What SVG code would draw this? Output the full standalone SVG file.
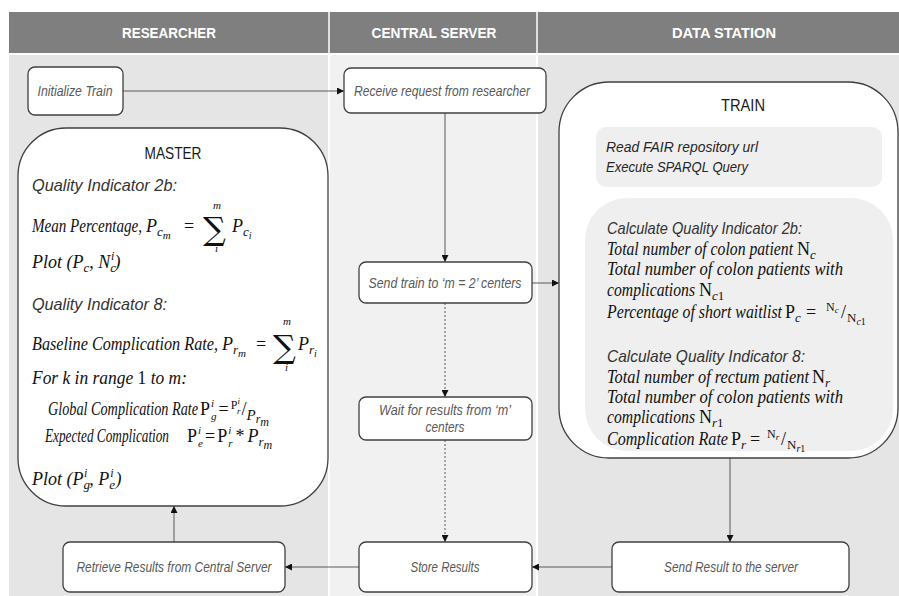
<svg xmlns="http://www.w3.org/2000/svg" width="899" height="596" viewBox="0 0 899 596">
<defs>
<style>
.hdr{font-family:"Liberation Sans",Arial,sans-serif;font-weight:bold;font-size:15px;fill:#fff;text-anchor:middle}
.box{fill:#fff;stroke:#404040;stroke-width:1.3}
.inner{fill:#efefef;stroke:none}
.lbl{font-family:"Liberation Sans",Arial,sans-serif;font-style:italic;font-size:14px;fill:#595959;text-anchor:middle}
.ttl{font-family:"Liberation Sans",Arial,sans-serif;font-size:17px;fill:#1a1a1a;text-anchor:middle}
.qi{font-family:"Liberation Sans",Arial,sans-serif;font-style:italic;font-size:17px;fill:#333}
.rd{font-family:"Liberation Sans",Arial,sans-serif;font-style:italic;font-size:15px;fill:#262626}
.m{font-family:"Liberation Serif","Times New Roman",serif;font-style:italic;font-size:18px;fill:#111}
.s13{font-size:13px}.s12{font-size:12px}.s11{font-size:11px}.s10{font-size:10px}.s9{font-size:9px}.s15{font-size:15px}
.up{font-style:normal}
.sig{font-family:"DejaVu Serif",serif;font-style:normal;font-size:32px}
.conn{stroke:#595959;stroke-width:1;fill:none}
.dot{stroke-dasharray:2 2}
</style>
<marker id="arr" viewBox="0 0 8 8" refX="8" refY="4" markerWidth="7" markerHeight="7" markerUnits="userSpaceOnUse" orient="auto">
<path d="M0,0 L8,4 L0,8 z" fill="#111"/>
</marker>
</defs>

<g id="lanes">
<rect x="9" y="12" width="890" height="41" fill="#7f7f7f"/>
<rect x="9" y="55" width="319" height="541" fill="#e5e5e5"/>
<rect x="330" y="55" width="206" height="541" fill="#f1f1f1"/>
<rect x="538" y="55" width="361" height="541" fill="#e5e5e5"/>
<line x1="329" y1="12" x2="329" y2="596" stroke="#fff" stroke-width="1.5"/>
<line x1="537" y1="12" x2="537" y2="596" stroke="#fff" stroke-width="1.5"/>
<text class="hdr" x="169" y="38" textLength="94" lengthAdjust="spacingAndGlyphs">RESEARCHER</text>
<text class="hdr" x="434" y="38" textLength="125" lengthAdjust="spacingAndGlyphs">CENTRAL SERVER</text>
<text class="hdr" x="724" y="38" textLength="104" lengthAdjust="spacingAndGlyphs">DATA STATION</text>
</g>

<g id="connectors">
<line class="conn" x1="123" y1="91" x2="344" y2="91" marker-end="url(#arr)"/>
<line class="conn" x1="445" y1="113" x2="445" y2="262" marker-end="url(#arr)"/>
<line class="conn" x1="532" y1="283" x2="559" y2="283" marker-end="url(#arr)"/>
<line class="conn dot" x1="445" y1="303" x2="445" y2="397" marker-end="url(#arr)"/>
<line class="conn dot" x1="445" y1="440" x2="445" y2="542" marker-end="url(#arr)"/>
<line class="conn" x1="730" y1="458" x2="730" y2="542" marker-end="url(#arr)"/>
<line class="conn" x1="612" y1="567" x2="532" y2="567" marker-end="url(#arr)"/>
<line class="conn" x1="359" y1="567" x2="285" y2="567" marker-end="url(#arr)"/>
<line class="conn" x1="174" y1="542" x2="174" y2="506" marker-end="url(#arr)"/>
</g>

<g id="initialize-train">
<rect class="box" x="28" y="67" width="95" height="48" rx="7"/>
<text class="lbl" x="75" y="96" textLength="75" lengthAdjust="spacingAndGlyphs">Initialize Train</text>
</g>

<g id="receive-request">
<rect class="box" x="344" y="68" width="202" height="45" rx="7"/>
<text class="lbl" x="442" y="96" textLength="176" lengthAdjust="spacingAndGlyphs">Receive request from researcher</text>
</g>

<g id="send-train">
<rect class="box" x="359" y="262" width="173" height="41" rx="7"/>
<text class="lbl" x="445" y="288" textLength="153" lengthAdjust="spacingAndGlyphs">Send train to ‘m = 2’ centers</text>
</g>

<g id="wait-results">
<rect class="box" x="359" y="397" width="173" height="43" rx="7"/>
<text class="lbl" x="445" y="415" textLength="132" lengthAdjust="spacingAndGlyphs">Wait for results from ‘m’</text>
<text class="lbl" x="445" y="432" textLength="39" lengthAdjust="spacingAndGlyphs">centers</text>
</g>

<g id="store-results">
<rect class="box" x="359" y="542" width="173" height="50" rx="7"/>
<text class="lbl" x="445" y="572" textLength="69" lengthAdjust="spacingAndGlyphs">Store Results</text>
</g>

<g id="retrieve-results">
<rect class="box" x="63" y="542" width="222" height="50" rx="7"/>
<text class="lbl" x="174" y="572" textLength="195" lengthAdjust="spacingAndGlyphs">Retrieve Results from Central Server</text>
</g>

<g id="send-result">
<rect class="box" x="612" y="542" width="237" height="50" rx="7"/>
<text class="lbl" x="731" y="572" textLength="134" lengthAdjust="spacingAndGlyphs">Send Result to the server</text>
</g>

<g id="master">
<rect class="box" x="18" y="128" width="310" height="378" rx="48"/>
<text class="ttl" x="173" y="159" textLength="57" lengthAdjust="spacingAndGlyphs">MASTER</text>
<text class="qi" x="32" y="191" textLength="145" lengthAdjust="spacingAndGlyphs">Quality Indicator 2b:</text>
<text class="m" y="232"><tspan x="32" textLength="110" lengthAdjust="spacingAndGlyphs">Mean Percentage,</tspan><tspan x="146">P</tspan><tspan class="s13" dy="4">c</tspan><tspan class="s11" dy="3">m</tspan><tspan class="up" x="184" dy="-7">=</tspan></text>
<text class="m" y="232"><tspan class="sig" x="203" y="240">∑</tspan><tspan class="s11" x="213" y="209">m</tspan><tspan class="s11" x="215" y="252">i</tspan></text>
<text class="m" x="232" y="232">P<tspan class="s13" dy="4">c</tspan><tspan class="s10" dy="3">i</tspan></text>
<text class="m" x="32" y="268">Plot (P<tspan class="s13" dy="4">c</tspan><tspan dy="-4">, N</tspan><tspan class="s13" dy="4">c</tspan><tspan class="s12" dx="-5" dy="-12">i</tspan><tspan dy="8">)</tspan></text>
<text class="qi" x="32" y="310" textLength="135" lengthAdjust="spacingAndGlyphs">Quality Indicator 8:</text>
<text class="m" y="350"><tspan x="32" textLength="186" lengthAdjust="spacingAndGlyphs">Baseline Complication Rate,</tspan><tspan x="222">P</tspan><tspan class="s13" dy="4">r</tspan><tspan class="s11" dy="3">m</tspan><tspan class="up" x="256" dy="-7">=</tspan></text>
<text class="m" y="350"><tspan class="sig" x="273" y="358">∑</tspan><tspan class="s11" x="283" y="325">m</tspan><tspan class="s11" x="285" y="371">i</tspan></text>
<text class="m" x="298" y="350">P<tspan class="s13" dy="4">r</tspan><tspan class="s10" dy="3">i</tspan></text>
<text class="m" x="32" y="384" textLength="155" lengthAdjust="spacingAndGlyphs">For k in range <tspan class="up">1</tspan> to m:</text>
<text class="m" x="48" y="415" textLength="150" lengthAdjust="spacingAndGlyphs">Global Complication Rate</text>
<text class="m" x="200" y="415"><tspan class="up">P</tspan><tspan class="s11" dx="1" dy="-8">i</tspan><tspan class="s11" dx="-3" dy="13">g</tspan><tspan class="up" dx="2" dy="-5">=</tspan><tspan class="up s12" dx="2" dy="-6">P</tspan><tspan class="s9" dy="-5">i</tspan><tspan class="s9" dx="-3" dy="10">r</tspan><tspan class="up" dx="1" dy="1">/</tspan><tspan class="s15" dy="5">P</tspan><tspan class="s12" dy="3">r</tspan><tspan class="s12" dy="3">m</tspan></text>
<text class="m" x="45" y="442" textLength="124" lengthAdjust="spacingAndGlyphs">Expected Complication</text>
<text class="m" x="187" y="442"><tspan class="up">P</tspan><tspan class="s11" dx="1" dy="-8">i</tspan><tspan class="s11" dx="-3" dy="13">e</tspan><tspan class="up" dx="2" dy="-5">=</tspan><tspan class="up" dx="2">P</tspan><tspan class="s11" dx="1" dy="-8">i</tspan><tspan class="s11" dx="-3" dy="13">r</tspan><tspan class="up" dx="3" dy="-5">*</tspan><tspan dx="3">P</tspan><tspan class="s13" dy="4">r</tspan><tspan class="s12" dy="3">m</tspan></text>
<text class="m" x="32" y="485">Plot (P<tspan class="s13" dy="4">g</tspan><tspan class="s12" dx="-6" dy="-12">i</tspan><tspan dx="2" dy="8">, P</tspan><tspan class="s13" dy="4">e</tspan><tspan class="s12" dx="-5" dy="-12">i</tspan><tspan dx="2" dy="8">)</tspan></text>
</g>

<g id="train">
<rect class="box" x="559" y="82" width="339" height="376" rx="50"/>
<text class="ttl" x="743" y="111" textLength="44" lengthAdjust="spacingAndGlyphs">TRAIN</text>
<rect class="inner" x="596" y="127" width="286" height="60" rx="10"/>
<text class="rd" x="606" y="152" textLength="152" lengthAdjust="spacingAndGlyphs">Read FAIR repository url</text>
<text class="rd" x="606" y="172" textLength="142" lengthAdjust="spacingAndGlyphs">Execute SPARQL Query</text>
<rect class="inner" x="585" y="198" width="308" height="253" rx="42"/>
<text class="qi" x="607" y="234" textLength="195" lengthAdjust="spacingAndGlyphs">Calculate Quality Indicator 2b:</text>
<text class="m" y="255"><tspan x="607" textLength="186" lengthAdjust="spacingAndGlyphs">Total number of colon patient</tspan><tspan class="up" x="797">N</tspan><tspan class="s13" dy="4">c</tspan></text>
<text class="m" x="607" y="275" textLength="236" lengthAdjust="spacingAndGlyphs">Total number of colon patients with</text>
<text class="m" y="296"><tspan x="607" textLength="88" lengthAdjust="spacingAndGlyphs">complications</tspan><tspan class="up" x="699">N</tspan><tspan class="s13" dy="4">c</tspan><tspan class="up s13">1</tspan></text>
<text class="m" y="318"><tspan x="607" textLength="175" lengthAdjust="spacingAndGlyphs">Percentage of short waitlist</tspan><tspan class="up" x="785">P</tspan><tspan class="s13" dy="4">c</tspan><tspan class="up" x="806" dy="-4">=</tspan><tspan class="up s12" x="826" dy="-7">N</tspan><tspan class="s9" dy="2">c</tspan><tspan class="up" x="841" dy="5">/</tspan><tspan class="up s13" x="847" dy="4">N</tspan><tspan class="s10" dy="3">c</tspan><tspan class="up s10">1</tspan></text>
<text class="qi" x="607" y="362" textLength="198" lengthAdjust="spacingAndGlyphs">Calculate Quality Indicator 8:</text>
<text class="m" y="383"><tspan x="607" textLength="202" lengthAdjust="spacingAndGlyphs">Total number of rectum patient</tspan><tspan class="up" x="812">N</tspan><tspan class="s13" dy="4">r</tspan></text>
<text class="m" x="607" y="403" textLength="236" lengthAdjust="spacingAndGlyphs">Total number of colon patients with</text>
<text class="m" y="423"><tspan x="607" textLength="88" lengthAdjust="spacingAndGlyphs">complications</tspan><tspan class="up" x="699">N</tspan><tspan class="s13" dy="4">r</tspan><tspan class="up s13">1</tspan></text>
<text class="m" y="445"><tspan x="607" textLength="121" lengthAdjust="spacingAndGlyphs">Complication Rate</tspan><tspan class="up" x="731">P</tspan><tspan class="s13" dy="4">r</tspan><tspan class="up" x="750" dy="-4">=</tspan><tspan class="up s12" x="767" dy="-7">N</tspan><tspan class="s9" dy="2">r</tspan><tspan class="up" x="781" dy="5">/</tspan><tspan class="up s13" x="787" dy="4">N</tspan><tspan class="s10" dy="3">r</tspan><tspan class="up s10">1</tspan></text>
</g>
</svg>
